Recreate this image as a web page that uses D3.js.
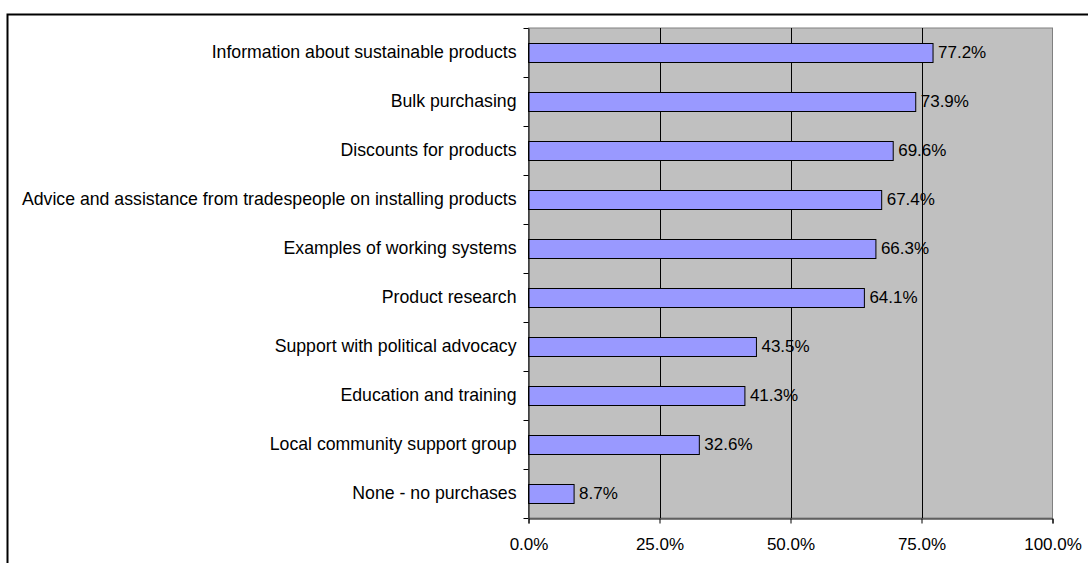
<!DOCTYPE html>
<html lang="en">
<head>
    <meta charset="UTF-8">
    <title>Support wanted</title>
    <script src="https://d3js.org/d3.v7.min.js"></script>
    <style>
        body {
            margin: 0;
            padding: 0;
            background-color: white;
            font-family: "Liberation Sans", Arial, sans-serif;
        }
        svg text {
            fill: #000;
            font-size: 17px;
        }
        svg .cat text {
            font-size: 17.7px;
        }
    </style>
</head>
<body>
    <div id="chart"></div>

    <script>
        // chart values
        const categories = [
            'Information about sustainable products',
            'Bulk purchasing',
            'Discounts for products',
            'Advice and assistance from tradespeople on installing products',
            'Examples of working systems',
            'Product research',
            'Support with political advocacy',
            'Education and training',
            'Local community support group',
            'None - no purchases'
        ];
        const values = [77.2, 73.9, 69.6, 67.4, 66.3, 64.1, 43.5, 41.3, 32.6, 8.7];
        const tickValues = [0, 25, 50, 75, 100];

        const width = 1088;
        const height = 563;
        const margin = {top: 28, right: 35.5, bottom: 45, left: 528.5};

        const svg = d3.select('#chart')
            .append('svg')
            .attr('width', width)
            .attr('height', height);

        // outer frame
        svg.append('rect')
            .attr('x', 7.5)
            .attr('y', 14.5)
            .attr('width', width)
            .attr('height', height)
            .attr('fill', 'white')
            .attr('stroke', '#000')
            .attr('stroke-width', 2);

        const x = d3.scaleLinear()
            .domain([0, 100])
            .range([margin.left, width - margin.right]);

        const y = d3.scaleBand()
            .domain(categories)
            .range([margin.top, height - margin.bottom])
            .paddingInner(0.61)
            .paddingOuter(0.305);

        // plot area background
        svg.append('rect')
            .attr('x', x(0))
            .attr('y', margin.top)
            .attr('width', x(100) - x(0))
            .attr('height', height - margin.bottom - margin.top)
            .attr('fill', '#c0c0c0')
            .attr('stroke', '#808080')
            .attr('stroke-width', 1);

        // vertical gridlines
        svg.append('g')
            .selectAll('line')
            .data(tickValues.slice(1, -1))
            .join('line')
            .attr('x1', d => Math.round(x(d)) + 0.5)
            .attr('x2', d => Math.round(x(d)) + 0.5)
            .attr('y1', margin.top)
            .attr('y2', height - margin.bottom)
            .attr('stroke', '#000')
            .attr('stroke-width', 1);

        // bars
        svg.append('g')
            .selectAll('rect')
            .data(values)
            .join('rect')
            .attr('x', x(0))
            .attr('y', (d, i) => Math.round(y(categories[i])) + 0.5)
            .attr('width', d => x(d) - x(0))
            .attr('height', Math.round(y.bandwidth()))
            .attr('fill', '#9999ff')
            .attr('stroke', '#000')
            .attr('stroke-width', 1);

        // value labels
        svg.append('g')
            .selectAll('text')
            .data(values)
            .join('text')
            .attr('x', d => x(d) + 5)
            .attr('y', (d, i) => y(categories[i]) + y.bandwidth() / 2)
            .attr('dy', '0.35em')
            .text(d => d.toFixed(1) + '%');

        // category axis
        const yAxis = svg.append('g')
            .attr('class', 'cat')
            .attr('transform', `translate(${x(0)},0)`)
            .call(d3.axisLeft(y).tickSize(0).tickPadding(12));
        yAxis.select('.domain').attr('stroke', '#000');
        yAxis.selectAll('text')
            .attr('font-size', null)
            .attr('font-family', null);

        // small ticks between categories
        const bounds = d3.range(categories.length + 1).map(i => margin.top + i * (height - margin.bottom - margin.top) / categories.length);
        svg.append('g')
            .selectAll('line')
            .data(bounds)
            .join('line')
            .attr('x1', x(0) - 5)
            .attr('x2', x(0))
            .attr('y1', d => Math.round(d) + 0.5)
            .attr('y2', d => Math.round(d) + 0.5)
            .attr('stroke', '#000');

        // value axis
        const xAxis = svg.append('g')
            .attr('transform', `translate(0,${height - margin.bottom + 0.5})`)
            .call(d3.axisBottom(x)
                .tickValues(tickValues)
                .tickSize(5)
                .tickPadding(14)
                .tickFormat(d => d.toFixed(1) + '%'));
        xAxis.select('.domain').attr('stroke', '#000');
        xAxis.selectAll('text')
            .attr('font-size', null)
            .attr('font-family', null);
    </script>
</body>
</html>
